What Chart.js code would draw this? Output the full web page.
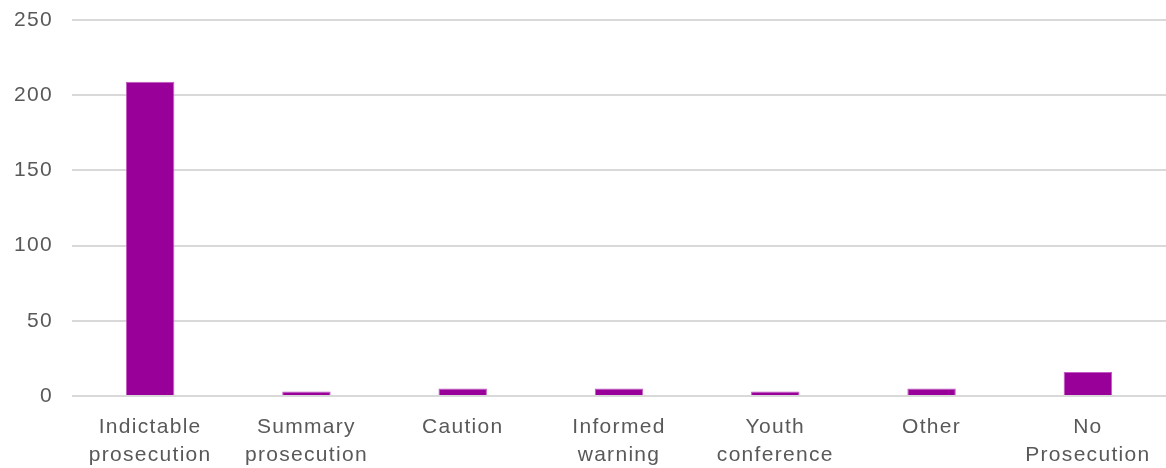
<!DOCTYPE html>
<html>
<head>
<meta charset="utf-8">
<script src="https://cdn.jsdelivr.net/npm/chart.js@4"></script>
<style>
  html, body { margin: 0; padding: 0; background: #fff; }
  #wrap { width: 1166px; height: 468px; }
</style>
</head>
<body>
<div id="wrap"><canvas id="chart"></canvas></div>
<script>
const categories = [
  ["Indictable", "prosecution"],
  ["Summary", "prosecution"],
  ["Caution"],
  ["Informed", "warning"],
  ["Youth", "conference"],
  ["Other"],
  ["No", "Prosecution"]
];
const counts = [209, 3, 5, 5, 3, 5, 16];

Chart.defaults.font.family = "'Liberation Sans', Arial, sans-serif";
Chart.defaults.font.size = 21;
Chart.defaults.color = '#595959';

// wider letter spacing like the office-style rendering
const spacing = {
  id: 'spacing',
  beforeUpdate(chart) { chart.ctx.letterSpacing = '1.3px'; },
  beforeDraw(chart) { chart.ctx.letterSpacing = '1.3px'; },
};

new Chart(document.getElementById("chart"), {
  type: "bar",
  data: {
    labels: categories,
    datasets: [{
      data: counts,
      backgroundColor: '#990099',
      borderColor: '#c25ac2',
      borderWidth: 1,
      categoryPercentage: 1,
      barPercentage: 0.31,
    }]
  },
  options: {
    responsive: true,
    maintainAspectRatio: false,
    animation: false,
    layout: { padding: 0 },
    plugins: { legend: { display: false }, tooltip: { enabled: false } },
    scales: {
      x: {
        grid: { display: false },
        border: { display: false },
        ticks: { maxRotation: 0, padding: 9, font: { lineHeight: 1.33 } },
        afterFit(scale) { scale.height = 72; },
      },
      y: {
        min: 0,
        max: 250,
        ticks: { stepSize: 50, padding: 19 },
        border: { display: false },
        grid: { color: '#d9d9d9', lineWidth: 2, drawTicks: false },
        afterFit(scale) { scale.width = 72; scale.paddingTop = 20; },
      }
    }
  },
  plugins: [spacing]
});
</script>
</body>
</html>
